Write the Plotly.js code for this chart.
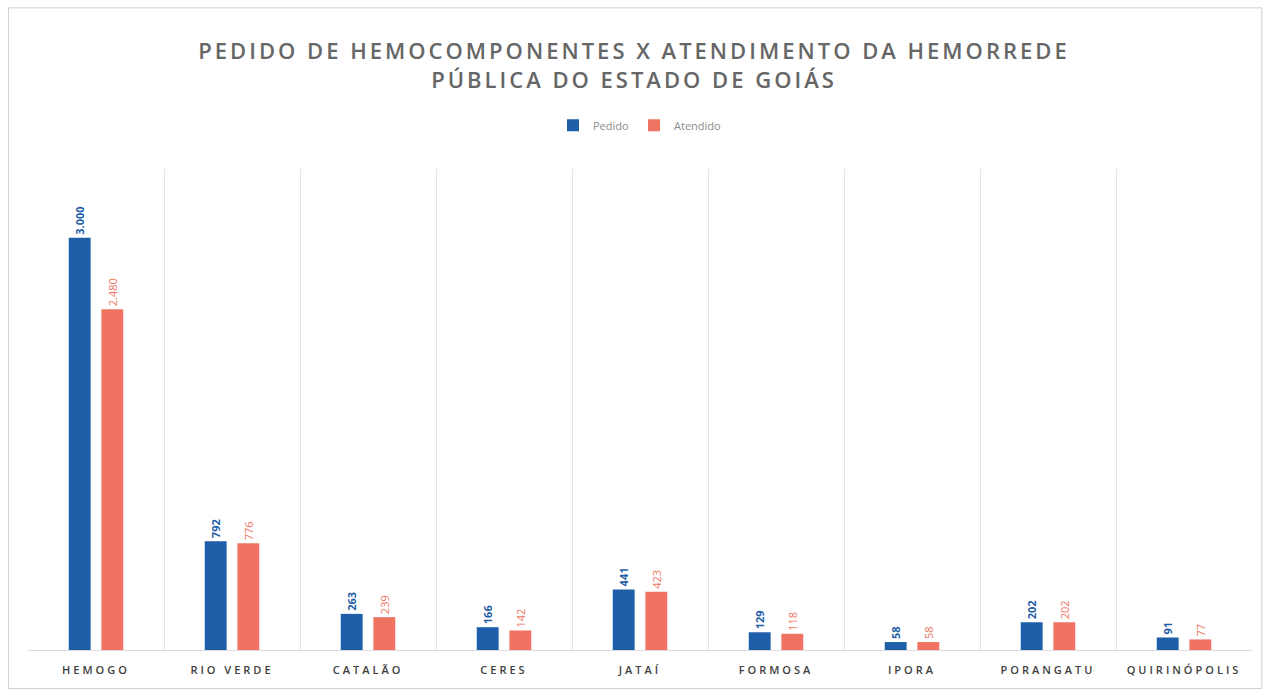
<!DOCTYPE html>
<html>
<head>
<meta charset="utf-8">
<script src="https://cdn.plot.ly/plotly-3.0.1.min.js"></script>
<style>
  body { margin: 0; background: #fff; }
  #chart { width: 1268px; height: 690px; }
  /* espaçamento de caracteres como no Excel */
  #chart .gtitle { letter-spacing: 3px; }
  #chart .xtick text { letter-spacing: 3px; }
</style>
</head>
<body>
<div id="chart"></div>
<script>
// data
var unidades = ['HEMOGO', 'RIO VERDE', 'CATALÃO', 'CERES', 'JATAÍ', 'FORMOSA', 'IPORA', 'PORANGATU', 'QUIRINÓPOLIS'];
var pedido = [3000, 792, 263, 166, 441, 129, 58, 202, 91];
var atendido = [2480, 776, 239, 142, 423, 118, 58, 202, 77];

var corPedido = '#1f5ea8';
var corAtendido = '#f07361';

var trace1 = {
    x: unidades, y: pedido,
    name: 'Pedido',
    type: 'bar',
    marker: {color: corPedido},
    texttemplate: '%{y:,}',
    textposition: 'outside',
    textangle: -90,
    constraintext: 'none',
    cliponaxis: false,
    textfont: {family: 'Open Sans, sans-serif', size: 11, color: corPedido, weight: 'bold'}
};

var trace2 = {
    x: unidades, y: atendido,
    name: 'Atendido',
    type: 'bar',
    marker: {color: corAtendido},
    texttemplate: '%{y:,}',
    textposition: 'outside',
    textangle: -90,
    constraintext: 'none',
    cliponaxis: false,
    textfont: {family: 'Open Sans, sans-serif', size: 11, color: corAtendido}
};

var layout = {
    title: {
        text: 'PEDIDO DE HEMOCOMPONENTES X ATENDIMENTO DA HEMORREDE<br>PÚBLICA DO ESTADO DE GOIÁS',
        font: {family: 'Open Sans, sans-serif', size: 22, color: '#666666', weight: 600},
        x: 0.5,
        xanchor: 'center',
        y: 0.914,
        yanchor: 'top'
    },
    separators: ',.',
    barmode: 'group',
    bargap: 0.52,
    bargroupgap: 0.33,
    showlegend: true,
    legend: {
        orientation: 'h',
        x: 0.5, xanchor: 'center',
        y: 1.091, yanchor: 'middle',
        font: {family: 'Open Sans, sans-serif', size: 11, color: '#8c8c8c'},
        itemwidth: 30
    },
    xaxis: {
        type: 'category',
        tickson: 'boundaries',
        ticks: '',
        ticklabelstandoff: 10,
        showgrid: true,
        gridcolor: '#e4e4e4',
        showline: true,
        linecolor: '#d9d9d9',
        tickfont: {family: 'Open Sans, sans-serif', size: 11, color: '#404040', weight: 600}
    },
    yaxis: {
        range: [0, 3500],
        showgrid: false,
        showticklabels: false,
        zeroline: false,
        showline: false
    },
    shapes: [{
        type: 'rect', xref: 'paper', yref: 'paper',
        x0: -0.016, x1: 1.008, y0: -0.08, y1: 1.335,
        line: {color: '#d0d0d0', width: 1}
    }],
    plot_bgcolor: '#ffffff',
    paper_bgcolor: '#ffffff',
    width: 1268,
    height: 690,
    margin: {l: 28, r: 16, t: 169, b: 40}
};

Plotly.newPlot('chart', [trace1, trace2], layout, {displayModeBar: false});
</script>
</body>
</html>
